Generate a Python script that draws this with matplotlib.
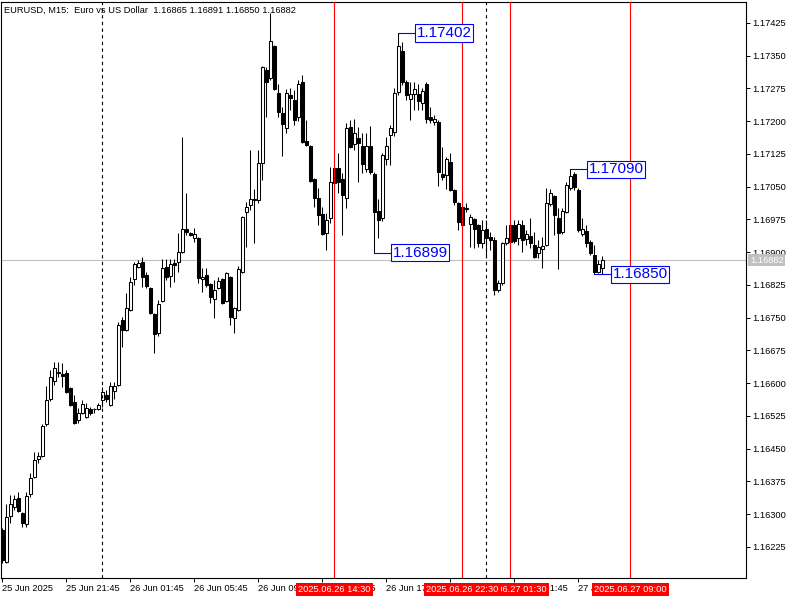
import matplotlib
matplotlib.use('Agg')
import matplotlib.pyplot as plt
import matplotlib.transforms as mtransforms
import numpy as np

plt.rcParams['font.family'] = ['Liberation Sans', 'DejaVu Sans']

# EURUSD M15, bars from 2025.06.25 17:45 (one bar = 15 min)
opens = [1.16264, 1.16191, 1.16296, 1.16317, 1.16337, 1.16303, 1.16278, 1.16346, 1.16385, 1.16427,
         1.16433, 1.16507, 1.16564, 1.16605, 1.16624, 1.16621, 1.16624, 1.16589, 1.16557, 1.16516,
         1.16532, 1.16523, 1.16541, 1.16541, 1.16540, 1.16562, 1.16573, 1.16550, 1.16582, 1.16596,
         1.16745, 1.16722, 1.16768, 1.16839, 1.16866, 1.16878, 1.16848, 1.16818, 1.16759, 1.16715,
         1.16789, 1.16866, 1.16846, 1.16875, 1.16878, 1.16901, 1.16953, 1.16944, 1.16933, 1.16933,
         1.16839, 1.16848, 1.16827, 1.16793, 1.16818, 1.16839, 1.16789, 1.16843, 1.16749, 1.16768,
         1.16855, 1.16992, 1.17008, 1.17022, 1.17020, 1.17104, 1.17317, 1.17299, 1.17372, 1.17265,
         1.17219, 1.17185, 1.17260, 1.17249, 1.17210, 1.17290, 1.17155, 1.17144, 1.17068, 1.17024,
         1.16988, 1.16944, 1.16978, 1.17093, 1.17093, 1.17068, 1.17024, 1.17187, 1.17148, 1.17162,
         1.17144, 1.17091, 1.17144, 1.17079, 1.16994, 1.16978, 1.17114, 1.17169, 1.17175, 1.17267,
         1.17361, 1.17290, 1.17251, 1.17262, 1.17262, 1.17242, 1.17285, 1.17210, 1.17198, 1.17198,
         1.17079, 1.17077, 1.17107, 1.17043, 1.17013, 1.17004, 1.17001, 1.16965, 1.16976, 1.16962,
         1.16921, 1.16953, 1.16935, 1.16928, 1.16814, 1.16830, 1.16921, 1.16962, 1.16962, 1.16933,
         1.16962, 1.16930, 1.16937, 1.16917, 1.16898, 1.16907, 1.16917, 1.17011, 1.17029, 1.16978,
         1.16946, 1.16992, 1.17047, 1.17079, 1.17043, 1.16942, 1.16949, 1.16923, 1.16894, 1.16855,
         1.16865]
highs = [1.16269, 1.16324, 1.16344, 1.16344, 1.16351, 1.16305, 1.16351, 1.16395, 1.16443, 1.16443,
         1.16507, 1.16594, 1.16630, 1.16649, 1.16649, 1.16646, 1.16630, 1.16591, 1.16573, 1.16543,
         1.16562, 1.16555, 1.16546, 1.16543, 1.16555, 1.16591, 1.16585, 1.16603, 1.16603, 1.16740,
         1.16752, 1.16807, 1.16843, 1.16878, 1.16882, 1.16889, 1.16855, 1.16820, 1.16761, 1.16791,
         1.16885, 1.16885, 1.16885, 1.16885, 1.16944, 1.17164, 1.17036, 1.16947, 1.16956, 1.16935,
         1.16864, 1.16864, 1.16829, 1.16836, 1.16843, 1.16841, 1.16855, 1.16845, 1.16774, 1.16869,
         1.16983, 1.17015, 1.17134, 1.17045, 1.17134, 1.17326, 1.17324, 1.17448, 1.17375, 1.17285,
         1.17233, 1.17274, 1.17276, 1.17272, 1.17294, 1.17306, 1.17203, 1.17146, 1.17070, 1.17047,
         1.17004, 1.16990, 1.17095, 1.17095, 1.17127, 1.17081, 1.17196, 1.17203, 1.17205, 1.17187,
         1.17173, 1.17173, 1.17189, 1.17084, 1.17022, 1.17127, 1.17164, 1.17191, 1.17276, 1.17402,
         1.17381, 1.17294, 1.17290, 1.17290, 1.17285, 1.17276, 1.17290, 1.17233, 1.17214, 1.17203,
         1.17141, 1.17118, 1.17127, 1.17045, 1.17015, 1.17008, 1.17013, 1.16988, 1.16978, 1.16965,
         1.16974, 1.16974, 1.16947, 1.16935, 1.16836, 1.16923, 1.16962, 1.16967, 1.16974, 1.16974,
         1.16974, 1.16951, 1.16978, 1.16947, 1.16928, 1.16935, 1.17047, 1.17045, 1.17031, 1.17001,
         1.17001, 1.17061, 1.17090, 1.17084, 1.17047, 1.16978, 1.16962, 1.16928, 1.16917, 1.16882,
         1.16891]
lows = [1.16188, 1.16188, 1.16280, 1.16310, 1.16305, 1.16271, 1.16271, 1.16340, 1.16383, 1.16417,
        1.16430, 1.16502, 1.16560, 1.16596, 1.16614, 1.16591, 1.16578, 1.16548, 1.16507, 1.16509,
        1.16530, 1.16521, 1.16527, 1.16532, 1.16538, 1.16546, 1.16557, 1.16548, 1.16564, 1.16594,
        1.16683, 1.16720, 1.16766, 1.16825, 1.16864, 1.16820, 1.16818, 1.16759, 1.16669, 1.16708,
        1.16787, 1.16836, 1.16820, 1.16832, 1.16855, 1.16899, 1.16940, 1.16937, 1.16923, 1.16830,
        1.16809, 1.16820, 1.16784, 1.16749, 1.16816, 1.16782, 1.16787, 1.16733, 1.16715, 1.16766,
        1.16853, 1.16912, 1.16997, 1.16921, 1.17013, 1.17065, 1.17210, 1.17294, 1.17272, 1.17210,
        1.17120, 1.17173, 1.17226, 1.17191, 1.17201, 1.17150, 1.17144, 1.17061, 1.17004, 1.16962,
        1.16940, 1.16905, 1.16967, 1.17054, 1.17036, 1.16940, 1.17001, 1.17139, 1.17134, 1.17061,
        1.17081, 1.17084, 1.17079, 1.16899, 1.16933, 1.16972, 1.17100, 1.17100, 1.17166, 1.17260,
        1.17283, 1.17249, 1.17203, 1.17226, 1.17226, 1.17226, 1.17196, 1.17196, 1.17191, 1.17052,
        1.17065, 1.17045, 1.17040, 1.17008, 1.16951, 1.16956, 1.16992, 1.16912, 1.16910, 1.16912,
        1.16910, 1.16889, 1.16905, 1.16802, 1.16809, 1.16825, 1.16917, 1.16919, 1.16921, 1.16917,
        1.16901, 1.16917, 1.16910, 1.16887, 1.16887, 1.16864, 1.16914, 1.17006, 1.16940, 1.16862,
        1.16942, 1.16990, 1.17043, 1.17043, 1.16946, 1.16937, 1.16912, 1.16894, 1.16850, 1.16852,
        1.16850]
closes = [1.16195, 1.16294, 1.16324, 1.16335, 1.16307, 1.16280, 1.16342, 1.16383, 1.16424, 1.16433,
          1.16502, 1.16562, 1.16614, 1.16635, 1.16626, 1.16617, 1.16580, 1.16550, 1.16509, 1.16532,
          1.16553, 1.16543, 1.16532, 1.16540, 1.16550, 1.16580, 1.16564, 1.16594, 1.16594, 1.16733,
          1.16722, 1.16772, 1.16832, 1.16873, 1.16875, 1.16843, 1.16823, 1.16761, 1.16713, 1.16782,
          1.16864, 1.16843, 1.16873, 1.16871, 1.16901, 1.16953, 1.16946, 1.16940, 1.16942, 1.16841,
          1.16843, 1.16825, 1.16798, 1.16814, 1.16834, 1.16784, 1.16853, 1.16752, 1.16772, 1.16862,
          1.16981, 1.17004, 1.17022, 1.17020, 1.17104, 1.17324, 1.17290, 1.17384, 1.17274, 1.17221,
          1.17194, 1.17265, 1.17253, 1.17203, 1.17285, 1.17152, 1.17146, 1.17063, 1.17024, 1.16985,
          1.16942, 1.16974, 1.17061, 1.17059, 1.17061, 1.17031, 1.17185, 1.17141, 1.17173, 1.17150,
          1.17102, 1.17144, 1.17084, 1.16992, 1.16974, 1.17123, 1.17144, 1.17185, 1.17265, 1.17372,
          1.17290, 1.17260, 1.17262, 1.17274, 1.17246, 1.17269, 1.17205, 1.17203, 1.17205, 1.17084,
          1.17072, 1.17114, 1.17043, 1.17015, 1.16969, 1.16962, 1.17000, 1.16981, 1.16953, 1.16921,
          1.16951, 1.16933, 1.16928, 1.16814, 1.16830, 1.16921, 1.16933, 1.16923, 1.16926, 1.16965,
          1.16928, 1.16942, 1.16921, 1.16889, 1.16912, 1.16914, 1.17013, 1.17036, 1.16985, 1.16944,
          1.16994, 1.17054, 1.17075, 1.17049, 1.16951, 1.16953, 1.16921, 1.16898, 1.16855, 1.16873,
          1.16882]

# time axis labels (every 16 bars = 4 hours)
tick_bars = [0, 16, 32, 48, 64, 80, 96, 112, 128, 144]
tick_labels = ['25 Jun 2025', '25 Jun 21:45', '26 Jun 01:45', '26 Jun 05:45', '26 Jun 09:45',
               '26 Jun 13:45', '26 Jun 17:45', '26 Jun 21:45', '27 Jun 01:45', '27 Jun 05:45']
price_ticks = [1.16225, 1.16300, 1.16375, 1.16450, 1.16525, 1.16600, 1.16675, 1.16750, 1.16825,
               1.16900, 1.16975, 1.17050, 1.17125, 1.17200, 1.17275, 1.17350, 1.17425]

# day separators and red vertical lines
sep_bars = [25, 121]
vline_bars = [83, 127, 115, 157]
vline_labels = ['2025.06.26 14:30', '2025.06.27 01:30', '2025.06.26 22:30', '2025.06.27 09:00']

# zigzag price labels
zz_bars = [99, 93, 142, 148]
zz_prices = [1.17402, 1.16899, 1.17090, 1.16850]

last_price = 1.16882
header = 'EURUSD, M15:  Euro vs US Dollar  1.16865 1.16891 1.16850 1.16882'

fig = plt.figure(figsize=(8, 6), dpi=100)
ax = fig.add_axes([1 / 800, 22 / 600, 745 / 800, 576 / 600])

x = np.arange(len(opens))
o = np.array(opens)
c = np.array(closes)
up = c >= o

# wicks
ax.vlines(x, lows, highs, color='black', linewidth=0.75, zorder=2)
# bodies
bottoms = np.minimum(o, c)
heights = np.abs(c - o)
ax.bar(x[up], heights[up], bottom=bottoms[up], width=0.62, facecolor='white',
       edgecolor='black', linewidth=0.75, zorder=3)
ax.bar(x[~up], heights[~up], bottom=bottoms[~up], width=0.62, facecolor='black',
       edgecolor='black', linewidth=0.75, zorder=3)

ax.axhline(last_price, color='#c0c0c0', linewidth=0.8, zorder=1)

for b in sep_bars:
    ax.axvline(b, color='black', linewidth=0.8, linestyle=(0, (3, 3)), zorder=4)

trans = mtransforms.blended_transform_factory(ax.transData, ax.transAxes)
for i, (b, lab) in enumerate(zip(vline_bars, vline_labels)):
    ax.axvline(b, color='red', linewidth=0.8, zorder=4)
    ax.text(b, -0.0195, lab, transform=trans, ha='center', va='center', fontsize=6.7,
            color='white', clip_on=False, zorder=10 + i,
            bbox=dict(boxstyle='square,pad=0.22', facecolor='red', edgecolor='none'))

for b, p in zip(zz_bars, zz_prices):
    ax.plot([b, b + 4.2], [p, p], color='blue', linewidth=0.8, zorder=5)
    ax.text(b + 4.6, p, f'{p:.5f}', ha='left', va='center', fontsize=11, color='blue',
            zorder=6, bbox=dict(boxstyle='square,pad=0.1', facecolor='white',
                                edgecolor='blue', linewidth=0.8))

# current price tag on the price scale
trans_y = mtransforms.blended_transform_factory(ax.transAxes, ax.transData)
ax.text(1 + 4 / 745, last_price, f'{last_price:.5f}', transform=trans_y, ha='left',
        va='center', fontsize=6.7, color='white', clip_on=False, zorder=10,
        bbox=dict(boxstyle='square,pad=0.2', facecolor='#c0c0c0', edgecolor='none'))

ax.set_xlim(-0.325, 185.9)
ax.set_ylim(1.16154, 1.17473)

ax.set_xticks(tick_bars)
ax.set_xticklabels(tick_labels)
for lbl in ax.get_xticklabels():
    lbl.set_horizontalalignment('left')
ax.tick_params(axis='x', direction='out', length=3, width=0.7, pad=1.5, labelsize=6.7)

ax.yaxis.tick_right()
ax.set_yticks(price_ticks)
ax.set_yticklabels([f'{p:.5f}' for p in price_ticks])
ax.tick_params(axis='y', direction='out', length=3, width=0.7, pad=1.5, labelsize=6.7)

for s in ax.spines.values():
    s.set_linewidth(0.8)
    s.set_color('black')

fig.text(4 / 800, 1 - 10 / 600, header, ha='left', va='center', fontsize=6.7, zorder=0)

fig.savefig('out.png', dpi=100)
